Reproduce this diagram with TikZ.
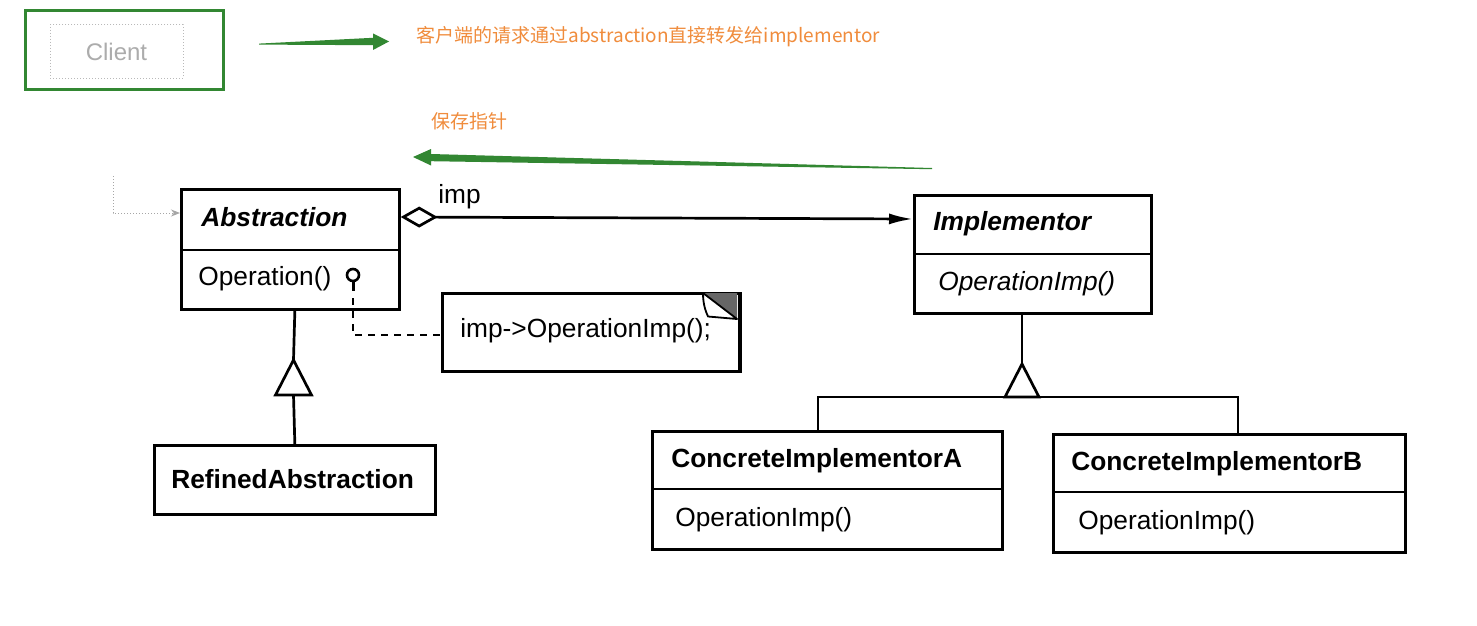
\documentclass[tikz,border=0pt]{standalone}
\usepackage{fontspec}
\setmainfont{Liberation Sans}
\newfontfamily\cjk{Noto Sans CJK SC}
\usetikzlibrary{arrows.meta,calc}
\definecolor{ugreen}{RGB}{50,135,50}
\definecolor{uorange}{RGB}{240,140,60}
\begin{document}
\begin{tikzpicture}[x=1pt,y=-1pt,line width=2.7pt,
  box/.style={draw,rectangle,inner sep=0pt,anchor=north west,line width=2.7pt},
  ttl/.style={anchor=base west,inner sep=0pt,font=\fontsize{26.3}{30}\selectfont\bfseries},
  ttli/.style={anchor=base west,inner sep=0pt,font=\fontsize{26.3}{30}\selectfont\bfseries\itshape},
  op/.style={anchor=base west,inner sep=0pt,font=\fontsize{26.3}{30}\selectfont},
  opi/.style={anchor=base west,inner sep=0pt,font=\fontsize{26.3}{30}\selectfont\itshape},
  note/.style={anchor=west,inner sep=0pt,text=uorange,font=\cjk\fontsize{19}{22}\selectfont},
  inh/.style={draw,fill=white,line width=2.7pt,line join=miter}
]
\useasboundingbox[fill=white] (0,0) rectangle (1477,626);

% Client
\node[draw=ugreen,line width=3pt,minimum width=198pt,minimum height=79pt,anchor=north west,inner sep=0pt] (clientbox) at (24,9) {};
\node[draw=gray!55,dotted,line width=1pt,minimum width=133pt,minimum height=53pt,inner sep=0pt,
      text=gray!65,font=\fontsize{24}{28}\selectfont] (client) at (116.5,51.5) {Client};

% green arrows
\fill[ugreen] (259,43.6) -- (373,37.8) -- (373,33.5) -- (389,41.5) -- (373,50) -- (373,45.2) -- (259,44.6) -- cycle;
\fill[ugreen] (413,157) -- (431,149) -- (431,154) -- (932,168) -- (932,169.2) -- (431,161.2) -- (431,165.5) -- cycle;

% orange texts
\node[note] (t1) at (415,37) {客户端的请求通过abstraction直接转发给implementor};
\node[note] (t2) at (430,121) {保存指针};

% Abstraction
\node[box,minimum width=218pt,minimum height=120pt] (abs) at (180,188) {};
\draw ([yshift=-62pt]abs.north west) -- ([yshift=-62pt]abs.north east);
\node[ttli] (absT) at (200,226) {Abstraction};
\node[op] (absO) at (197,285) {Operation()};
\node[circle,draw,line width=2.6pt,minimum size=12pt,inner sep=0pt] (lol) at (353,275) {};
\draw[line width=3pt] (lol.south) -- (353,291);

% client connector
\coordinate (cl) at (113,176);
\draw[dotted,gray!70,line width=1pt,-{Stealth[length=9pt,width=7pt]}] (cl) |- ([yshift=-25pt]abs.north west);

% Implementor
\node[box,minimum width=237pt,minimum height=118pt] (imp) at (913,194) {};
\draw ([yshift=-60pt]imp.north west) -- ([yshift=-60pt]imp.north east);
\node[ttli] (impT) at (932,230) {Implementor};
\node[opi] (impO) at (937,290) {OperationImp()};

% aggregation
\draw[{Diamond[open,length=37pt,width=21pt,line width=2.7pt]}-{Latex[length=24pt,width=11pt]}]
  ([yshift=-29pt]abs.north east) -- ([yshift=-25pt]imp.north west);
\node[op] (impL) at (437,203) {imp};

% note
\node[box,minimum width=297pt,minimum height=78pt] (nt) at (441,292) {};
\fill[black!60] (703,293) -- (737,293) -- (737,319) -- cycle;
\draw[line width=1.8pt,fill=white,line join=round] (703,293) .. controls (703,305) and (706,312) .. (708,316.5) -- (737,319) -- cycle;
\draw (nt.north east) -- (nt.south east);
\node[op] (ntT) at (459,337) {imp->OperationImp();};
\coordinate (dstart) at (353,298);
\draw[dash pattern=on 7pt off 6pt,line width=2.8pt] (dstart) |- (nt.west |- 0,335);

% RefinedAbstraction
\node[box,minimum width=281pt,minimum height=69pt] (ref) at (153,444) {};
\node[ttl] (refT) at (170,488) {RefinedAbstraction};
\draw (ref.north |- abs.south) -- (293.5,360);
\draw[inh] (293.5,360) -- (311.5,395) -- (275.5,395) -- cycle;
\draw (293.5,395) -- (ref.north);

% Concrete implementors
\node[box,minimum width=350pt,minimum height=118pt] (ca) at (651,430) {};
\draw ([yshift=-59pt]ca.north west) -- ([yshift=-59pt]ca.north east);
\node[ttl] (caT) at (670,467) {ConcreteImplementorA};
\node[op] (caO) at (674,526) {OperationImp()};

\node[box,minimum width=352pt,minimum height=118pt] (cb) at (1052,433) {};
\draw ([yshift=-59pt]cb.north west) -- ([yshift=-59pt]cb.north east);
\node[ttl] (cbT) at (1070,470) {ConcreteImplementorB};
\node[op] (cbO) at (1077,529) {OperationImp()};

\coordinate (stem) at (1022,364);
\coordinate (xa) at (818,397);
\coordinate (xb) at (1238,397);
\draw (stem |- imp.south) -- (stem);
\draw (xa |- ca.north) -- (xa) -- (xb) -- (xb |- cb.north);
\draw[inh] (stem) -- (1039,397) -- (1005,397) -- cycle;
\end{tikzpicture}
\end{document}
